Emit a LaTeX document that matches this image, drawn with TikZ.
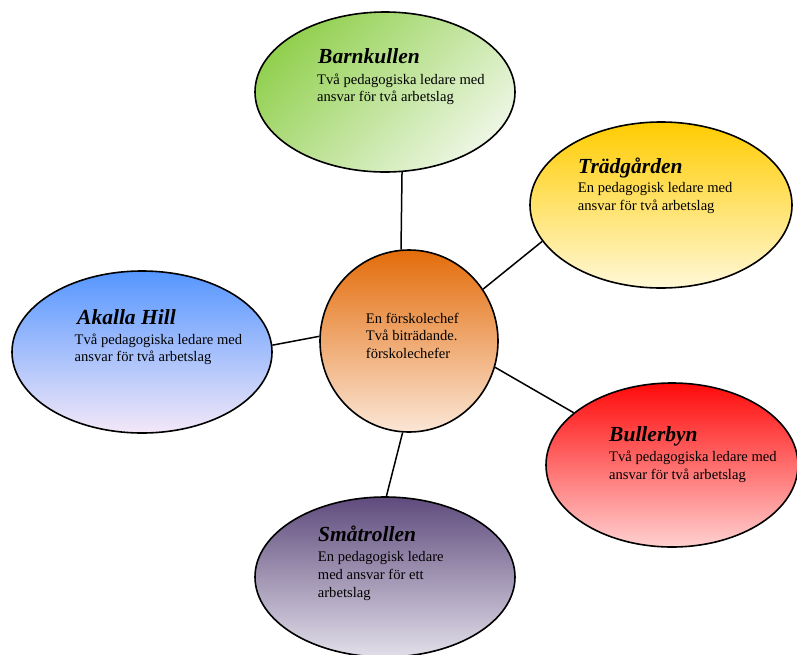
\documentclass[tikz,border=0pt]{standalone}
\usepackage{fontspec}
\setmainfont{Liberation Serif}
\usetikzlibrary{shapes.geometric}
\definecolor{bkA}{RGB}{146,208,80}
\definecolor{bkB}{RGB}{236,246,226}
\definecolor{tdA}{RGB}{255,204,0}
\definecolor{tdB}{RGB}{255,248,215}
\definecolor{akA}{RGB}{85,150,255}
\definecolor{akB}{RGB}{244,232,248}
\definecolor{bbA}{RGB}{255,10,10}
\definecolor{bbB}{RGB}{255,208,208}
\definecolor{smA}{RGB}{95,75,125}
\definecolor{smB}{RGB}{226,223,233}
\definecolor{ceA}{RGB}{227,108,10}
\definecolor{ceB}{RGB}{251,230,214}
\tikzset{
  blob/.style={ellipse, draw=black, line width=1.6pt, inner sep=0pt,
    minimum width=260pt, minimum height=160pt},
  ttl/.style={anchor=base west, inner sep=0pt,
    font=\fontsize{21.5}{24}\selectfont\bfseries\itshape},
  body/.style={anchor=base west, inner sep=0pt, align=left,
    font=\fontsize{14.6}{17.7}\selectfont},
  link/.style={line width=1.5pt}
}
\begin{document}
\begin{tikzpicture}[x=1pt,y=-1pt]
\useasboundingbox (0,0) rectangle (797,654);
% shapes
\node[blob, top color=bkA, bottom color=bkB, shading angle=45] (bk) at (385,92) {};
\node[blob, minimum width=262pt, minimum height=166pt, top color=tdA, bottom color=tdB] (td) at (661,205) {};
\node[blob, minimum height=162pt, top color=akA, bottom color=akB] (ak) at (142,352) {};
\node[blob, minimum width=252pt, minimum height=164pt, top color=bbA, bottom color=bbB] (bb) at (672,465) {};
\node[blob, minimum height=160pt, top color=smA, bottom color=smB] (sm) at (385,577) {};
\node[blob, minimum width=178pt, minimum height=182pt, top color=ceA, bottom color=ceB] (ce) at (409,341) {};
% connectors
\draw[link] (bk.-78.7) -- (ce.95);
\draw[link] (td.-163.7) -- (ce.35.5);
\draw[link] (ak.3) -- (ce.177.4);
\draw[link] (bb.152) -- (ce.-17.5);
\draw[link] (sm.89) -- (ce.-94.4);
% texts (body anchors sit on the last line's baseline)
\node[ttl] (bkt) at (318,63) {Barnkullen};
\node[body] (bkb) at (317,101.7) {Två pedagogiska ledare med\\ansvar för två arbetslag};
\node[ttl] (tdt) at (578,173) {Trädgården};
\node[body] (tdb) at (577.7,210.4) {En pedagogisk ledare med\\ansvar för två arbetslag};
\node[ttl] (akt) at (77,324) {Akalla Hill};
\node[body] (akb) at (74.5,361.7) {Två pedagogiska ledare med\\ansvar för två arbetslag};
\node[ttl] (bbt) at (609,441.7) {Bullerbyn};
\node[body] (bbb) at (609,479.4) {Två pedagogiska ledare med\\ansvar för två arbetslag};
\node[ttl] (smt) at (318,541.7) {Småtrollen};
\node[body] (smb) at (317.7,597.1) {En pedagogisk ledare\\med ansvar för ett\\arbetslag};
\node[body] (ceb) at (365.7,358.4) {En förskolechef\\Två biträdande.\\förskolechefer};
\end{tikzpicture}
\end{document}
